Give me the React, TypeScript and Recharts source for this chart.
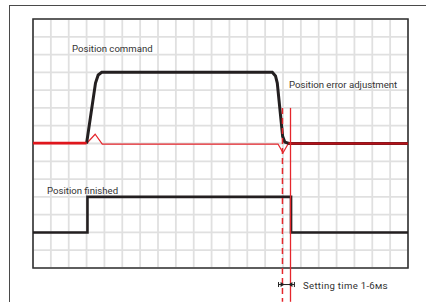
import { LineChart, Line, XAxis, YAxis, CartesianGrid, ReferenceLine, ReferenceArea } from 'recharts';

// grid is 21 x 14 cells
const xTicks = [0, 1, 2, 3, 4, 5, 6, 7, 8, 9, 10, 11, 12, 13, 14, 15, 16, 17, 18, 19, 20, 21];
const yTicks = [0, 1, 2, 3, 4, 5, 6, 7, 8, 9, 10, 11, 12, 13, 14];

// position command (black trapezoid)
const commandPts = [
  { x: 3.0, y: 7 },
  { x: 3.5, y: 10.4 },
  { x: 3.65, y: 10.85 },
  { x: 3.85, y: 11 },
  { x: 13.4, y: 11 },
  { x: 13.58, y: 10.8 },
  { x: 13.68, y: 10.4 },
  { x: 13.98, y: 7.4 },
  { x: 14.1, y: 7.08 },
  { x: 14.35, y: 7 },
  { x: 21, y: 7 }
];

// position error (red)
const errorLeft = [{ x: 0, y: 7.02 }, { x: 3.0, y: 7.02 }];
const errorMid = [
  { x: 3.0, y: 7 },
  { x: 3.48, y: 7.52 },
  { x: 3.88, y: 6.97 },
  { x: 13.72, y: 6.97 },
  { x: 14.0, y: 6.48 },
  { x: 14.3, y: 7.0 }
];
const errorRight = [{ x: 14.3, y: 7 }, { x: 21, y: 7 }];

// position finished (black step)
const finishedPts = [
  { x: 0, y: 2 },
  { x: 3.05, y: 2 },
  { x: 3.05, y: 4 },
  { x: 14.45, y: 4 },
  { x: 14.45, y: 2 },
  { x: 21, y: 2 }
];

// settling markers
const settleStart = 13.97;
const settleEnd = 14.42;
const markerTop = 9;
const markerBottom = -1.9;
const arrowY = -0.93;

const textStyle: React.CSSProperties = {
  position: 'absolute',
  fontFamily: 'Roboto, sans-serif',
  fontSize: 9.6,
  color: '#333',
  whiteSpace: 'nowrap',
  lineHeight: '12px'
};

const Arrow = (p: any) => {
  const { x1, y1, x2 } = p;
  return (
    <g stroke="#222" fill="#222">
      <line x1={x1} y1={y1} x2={x2} y2={y1} strokeWidth={1} />
      <line x1={x1} y1={y1 - 2.5} x2={x1} y2={y1 + 2.5} strokeWidth={1} />
      <line x1={x2} y1={y1 - 2.5} x2={x2} y2={y1 + 2.5} strokeWidth={1} />
      <polygon points={`${x1 + 6},${y1} ${x1 + 2},${y1 - 2.5} ${x1 + 2},${y1 + 2.5}`} stroke="none" />
      <polygon points={`${x2 - 6},${y1} ${x2 - 2},${y1 - 2.5} ${x2 - 2},${y1 + 2.5}`} stroke="none" />
    </g>
  );
};

const NoTick = () => <g />;

export default function App() {
  return (
    <div style={{ position: 'absolute', left: 0, top: 0, width: 426, height: 302, background: '#fff', overflow: 'hidden' }}>
      {/* outer frame, cropped at right and bottom */}
      <div style={{ position: 'absolute', left: 9, top: 5, width: 430, height: 310, borderTop: '1.5px solid #4a4a4a', borderLeft: '1.5px solid #4a4a4a' }} />
      <div style={{ position: 'absolute', left: 0, top: 0 }}>
        <LineChart width={426} height={302} margin={{ top: 19, right: 18, bottom: 34, left: 33 }}>
          <XAxis type="number" dataKey="x" domain={[0, 21]} ticks={xTicks} interval={0} height={0} tick={NoTick} tickLine={false} axisLine={false} allowDataOverflow />
          <YAxis type="number" dataKey="y" domain={[0, 14]} ticks={yTicks} interval={0} width={0} tick={NoTick} tickLine={false} axisLine={false} allowDataOverflow />
          <CartesianGrid stroke="#e0e0e0" strokeWidth={1.8} />
          <ReferenceArea x1={0} x2={21} y1={0} y2={14} fill="none" stroke="#333" strokeWidth={1.6} ifOverflow="visible" />
          <Line data={errorMid} dataKey="y" stroke="#e5262c" strokeWidth={1.2} dot={false} isAnimationActive={false} />
          <Line data={commandPts} dataKey="y" stroke="#231f20" strokeWidth={3} dot={false} isAnimationActive={false} />
          <Line data={errorLeft} dataKey="y" stroke="#e0161c" strokeWidth={2.6} dot={false} isAnimationActive={false} />
          <Line data={errorRight} dataKey="y" stroke="#b3131a" strokeWidth={2.6} dot={false} isAnimationActive={false} />
          <Line data={finishedPts} dataKey="y" stroke="#231f20" strokeWidth={2.6} dot={false} isAnimationActive={false} />
          <ReferenceLine segment={[{ x: settleStart, y: markerTop }, { x: settleStart, y: markerBottom }]} stroke="#e5262c" strokeWidth={1.5} strokeDasharray="6 4" ifOverflow="visible" />
          <ReferenceLine segment={[{ x: settleEnd, y: markerTop }, { x: settleEnd, y: markerBottom }]} stroke="#e5262c" strokeWidth={1.3} ifOverflow="visible" />
          <ReferenceLine segment={[{ x: settleStart - 0.22, y: arrowY }, { x: settleEnd + 0.22, y: arrowY }]} ifOverflow="visible" shape={Arrow} />
        </LineChart>
      </div>
      <div style={{ ...textStyle, left: 72, top: 43 }}>Position command</div>
      <div style={{ ...textStyle, left: 289, top: 79 }}>Position error adjustment</div>
      <div style={{ ...textStyle, left: 47, top: 185 }}>Position finished</div>
      <div style={{ ...textStyle, left: 303, top: 280, letterSpacing: 0.3 }}>
        Setting time 1-6<span style={{ fontVariant: 'small-caps' }}>ms</span>
      </div>
    </div>
  );
}
